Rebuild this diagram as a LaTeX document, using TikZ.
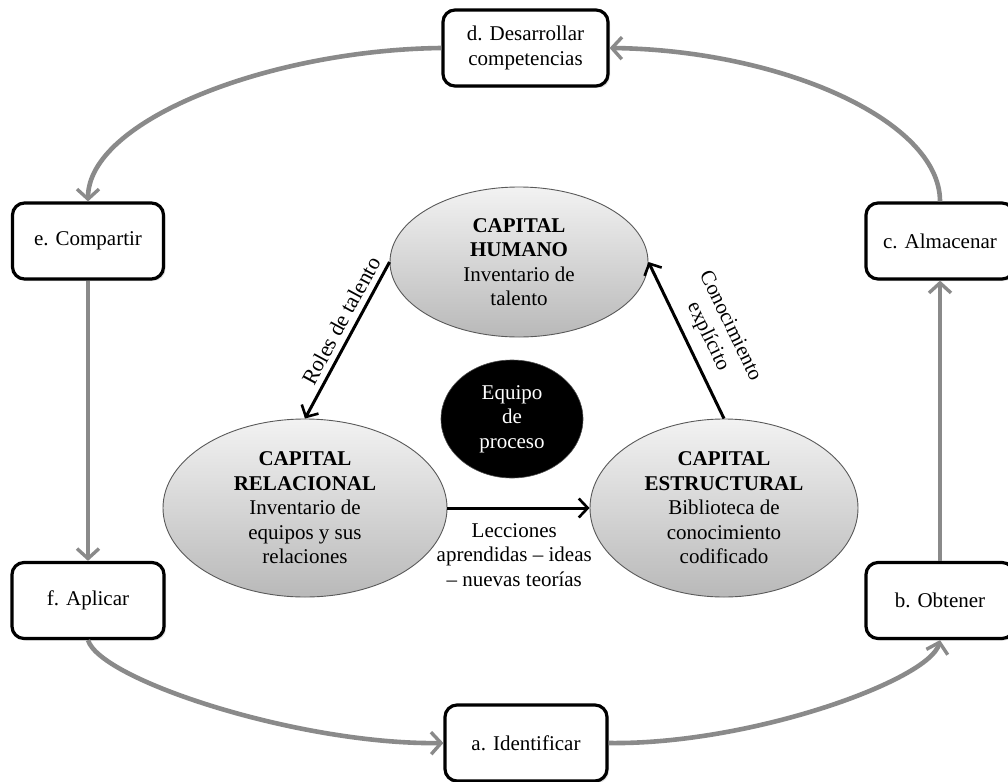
\documentclass[tikz,border=0pt]{standalone}
\usepackage{fontspec}
\setmainfont{Liberation Serif}
\usetikzlibrary{arrows.meta,shapes.geometric,shadows}
\definecolor{flowgray}{RGB}{138,138,138}
\pgfdeclareradialshading{blackglow}{\pgfpoint{0bp}{0bp}}{color(0bp)=(black); color(40bp)=(black); color(50bp)=(black!55!white)}
\begin{document}
\begin{tikzpicture}[x=1pt,y=-1pt,
  txt/.style={font=\fontsize{21}{24.5}\selectfont, align=center},
  box/.style={txt, draw=black, line width=3.2pt, rounded corners=12pt, fill=white,
    minimum height=76pt, inner sep=2pt,
    drop shadow={opacity=0.25, shadow xshift=2pt, shadow yshift=-2pt}},
  capell/.style={txt, ellipse, draw=black!65, line width=0.9pt, top color=gray!10,
    bottom color=gray!55, inner sep=0pt},
  coreell/.style={txt, ellipse, draw=black!70, line width=0.6pt, shade, shading=blackglow,
    text=white, inner sep=0pt},
  flow/.style={draw=flowgray, line width=4.6pt,
    -{Straight Barb[length=10pt,width=22pt,line width=3.4pt]}},
  link/.style={draw=black, line width=3pt, -{Straight Barb[length=9pt,width=19pt,line width=2.6pt]}},
  lbl/.style={txt, inner sep=0pt}
]
\useasboundingbox (0,0) rectangle (1008,781);
\clip (0,0) rectangle (1008,781);

% process boxes
\node[box, minimum width=165pt] (d) at (525.5,48) {d. Desarrollar\\competencias};
\node[box, minimum width=151pt] (e) at (88,241) {e. Compartir};
\node[box, minimum width=148pt] (c) at (940,241) {c. Almacenar};
\node[box, minimum width=152pt] (f) at (88,600.5) {f. Aplicar};
\node[box, minimum width=148pt] (b) at (940,600.5) {b. Obtener};
\node[box, minimum width=162pt] (a) at (526,743) {a. Identificar};

% capital ellipses
\node[capell, minimum width=258pt, minimum height=150pt] (h) at (519,262)
  {\textbf{CAPITAL}\\\textbf{HUMANO}\\Inventario de\\talento};
\node[capell, minimum width=284pt, minimum height=178pt] (r) at (305,508)
  {\textbf{CAPITAL}\\\textbf{RELACIONAL}\\Inventario de\\equipos y sus\\relaciones};
\node[capell, minimum width=268pt, minimum height=178pt] (s) at (724,508)
  {\textbf{CAPITAL}\\\textbf{ESTRUCTURAL}\\Biblioteca de\\conocimiento\\codificado};
\node[coreell, minimum width=142pt, minimum height=118pt] (k) at (512,419)
  {Equipo\\de\\proceso};

% cycle connectors
\draw[flow] (a.east) .. controls (750,745) and (930,680) .. (b.south);
\draw[flow] (b.north) -- (c.south);
\draw[flow] (c.north) .. controls (940,120) and (780,50) .. (d.east);
\draw[flow] (d.west) .. controls (270,50) and (88,120) .. (e.north);
\draw[flow] (e.south) -- (f.north);
\draw[flow] (f.south) .. controls (100,680) and (300,745) .. (a.west);

% capital connectors
\draw[link] (h.west) -- (r.north)
  node[lbl, pos=0.42, sloped, above=5.5pt, font=\fontsize{22}{24.5}\selectfont] {Roles de talento};
\draw[link] (s.north) -- (h.east)
  node[lbl, pos=0.465, sloped, above=10pt] {Conocimiento\\explícito};
\draw[link] (r.east) -- (s.west)
  node[lbl, pos=0.47, below=14pt] {Lecciones\\aprendidas -- ideas\\-- nuevas teorías};
\end{tikzpicture}
\end{document}
